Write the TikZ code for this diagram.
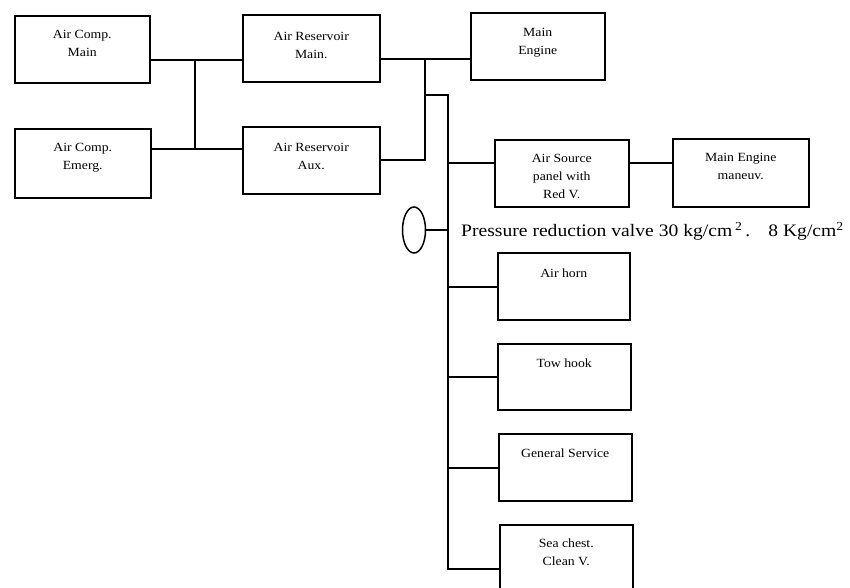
\documentclass[tikz,border=0pt]{standalone}
\usepackage{fontspec}
\setmainfont{Liberation Serif}
\newfontfamily\widefont[FakeStretch=1.12]{Liberation Serif}
\newfontfamily\boxfont[FakeStretch=1.1]{Liberation Serif}
\usetikzlibrary{shapes.geometric,calc}
\begin{document}
\begin{tikzpicture}[x=1pt,y=-1pt,
  box/.style={draw,line width=1.5pt,anchor=north west,inner sep=0pt},
  lbl/.style={anchor=north,align=center,inner sep=0pt,
    font=\boxfont\fontsize{12.5}{18}\selectfont},
  conn/.style={line width=1.5pt}]
\clip (0,0) rectangle (850,587);
\fill[white] (0,0) rectangle (850,587);
% boxes
\node[box,minimum width=135pt,minimum height=67pt] (cm) at (14,15) {};
\node[box,minimum width=136pt,minimum height=69pt] (ce) at (14,128) {};
\node[box,minimum width=137pt,minimum height=67pt] (rm) at (242,14) {};
\node[box,minimum width=137pt,minimum height=67pt] (ra) at (242,126) {};
\node[box,minimum width=134pt,minimum height=67pt] (me) at (470,12) {};
\node[box,minimum width=134pt,minimum height=67pt] (as) at (494,139) {};
\node[box,minimum width=136pt,minimum height=68pt] (mm) at (672,138) {};
\node[box,minimum width=132pt,minimum height=67pt] (ah) at (497,252) {};
\node[box,minimum width=133pt,minimum height=66pt] (th) at (497,343) {};
\node[box,minimum width=133pt,minimum height=67pt] (gs) at (498,433) {};
\node[box,minimum width=133pt,minimum height=80pt] (sc) at (499,524) {};
% box texts
\node[lbl] (cmt) at ($(cm.north)+(0,15)$) {Air Comp.\\Main};
\node[lbl] (cet) at ($(ce.north)+(0,15.5)$) {Air Comp.\\Emerg.};
\node[lbl] (rmt) at ($(rm.north)+(0,18)$) {Air Reservoir\\Main.};
\node[lbl] (rat) at ($(ra.north)+(0,17.5)$) {Air Reservoir\\Aux.};
\node[lbl] (met) at ($(me.north)+(0,16.5)$) {Main\\Engine};
\node[lbl] (ast) at ($(as.north)+(0,15)$) {Air Source\\panel with\\Red V.};
\node[lbl] (mmt) at ($(mm.north)+(0,15)$) {Main Engine\\maneuv.};
\node[lbl] (aht) at ($(ah.north)+(0,17)$) {Air horn};
\node[lbl] (tht) at ($(th.north)+(0,16)$) {Tow hook};
\node[lbl] (gst) at ($(gs.north)+(0,16)$) {General Service};
\node[lbl] (sct) at ($(sc.north)+(0,15)$) {Sea chest.\\Clean V.};
% valve
\node[draw,line width=1.5pt,ellipse,minimum width=23pt,minimum height=46pt,inner sep=0pt] (ev) at (414,230) {};
\node[anchor=west,inner sep=0pt,font=\widefont\fontsize{17.5}{21}\selectfont] (pt) at (461,231)
  {Pressure reduction valve 30 kg/cm\,\textsuperscript{2}\,.\hspace{18pt}8 Kg/cm\textsuperscript{2}};
% junction coordinates
\coordinate (ja) at (195,60);
\coordinate (jb) at (195,149);
\coordinate (jc) at (425,59);
\coordinate (jd) at (425,160);
\coordinate (je) at (425,95);
\coordinate (jf) at (448,95);
\coordinate (jg) at (448,569);
\coordinate (b1) at (448,163);
\coordinate (b2) at (448,230);
\coordinate (b3) at (448,287);
\coordinate (b4) at (448,377);
\coordinate (b5) at (448,468);
% connectors
\draw[conn] (cm.east|-ja) -- (rm.west|-ja);
\draw[conn] (ce.east|-jb) -- (ra.west|-jb);
\draw[conn] (ja) -- (jb);
\draw[conn] (rm.east|-jc) -- (me.west|-jc);
\draw[conn] (jc) -- (jd) -- (ra.east|-jd);
\draw[conn] (je) -- (jf) -- (jg) -- (sc.west|-jg);
\draw[conn] (b1) -- (as.west|-b1);
\draw[conn] (as.east|-b1) -- (mm.west|-b1);
\draw[conn] (ev.east) -- (b2);
\draw[conn] (b3) -- (ah.west|-b3);
\draw[conn] (b4) -- (th.west|-b4);
\draw[conn] (b5) -- (gs.west|-b5);
\end{tikzpicture}
\end{document}
